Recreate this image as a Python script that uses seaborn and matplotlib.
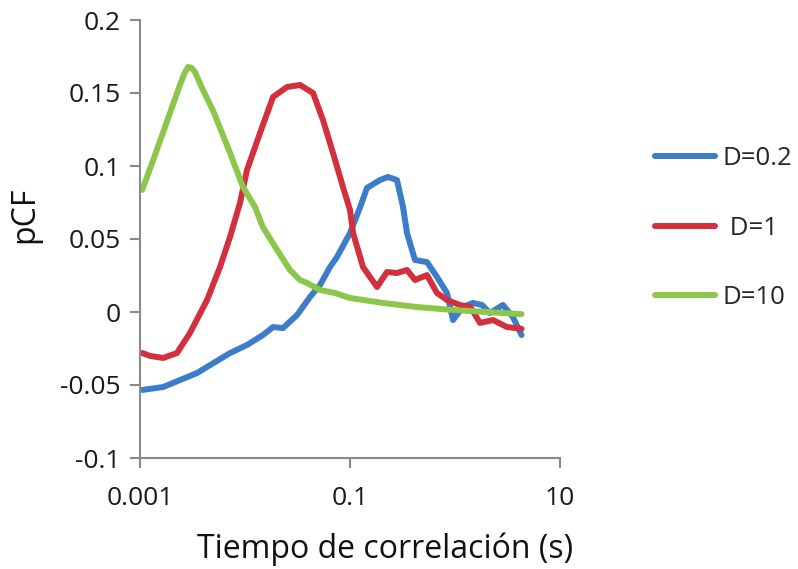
import numpy as np
import pandas as pd
import matplotlib
matplotlib.use("Agg")
import matplotlib.pyplot as plt
from matplotlib.ticker import FixedLocator, NullLocator
import seaborn as sns

# Correlation times (s) and pCF values for each D
tau_d02 = [0.00105, 0.00166, 0.00349, 0.0072, 0.01045, 0.0148, 0.0185, 0.023,
           0.0313, 0.0416, 0.0518, 0.0645, 0.0752, 0.100, 0.125, 0.145, 0.193,
           0.230, 0.280, 0.320, 0.349, 0.416, 0.541, 0.674, 0.839, 0.957, 1.19,
           1.48, 1.81, 2.15, 2.86, 3.56, 4.3]
pcf_d02 = [-0.0534, -0.0514, -0.0418, -0.0281, -0.0226, -0.0158, -0.0103, -0.0110,
           -0.0021, 0.0103, 0.0185, 0.0308, 0.0377, 0.0541, 0.0719, 0.0849, 0.0904,
           0.0925, 0.0904, 0.0719, 0.0541, 0.0356, 0.0342, 0.0240, 0.0130, -0.0055,
           0.0034, 0.0062, 0.0048, -0.0007, 0.0048, -0.0034, -0.0158]

tau_d1 = [0.00105, 0.00125, 0.00166, 0.00225, 0.00299, 0.00435, 0.00578, 0.0072,
          0.00896, 0.01045, 0.0139, 0.0185, 0.0251, 0.0334, 0.0445, 0.0553, 0.0689,
          0.0857, 0.100, 0.107, 0.133, 0.181, 0.225, 0.280, 0.349, 0.416, 0.541,
          0.674, 0.839, 1.116, 1.40, 1.73, 2.30, 3.13, 4.3]
pcf_d1 = [-0.0281, -0.0301, -0.0315, -0.0281, -0.0144, 0.0082, 0.0308, 0.0514,
          0.0747, 0.0973, 0.1226, 0.1473, 0.1541, 0.1555, 0.150, 0.1315, 0.1089,
          0.0856, 0.0699, 0.0541, 0.0308, 0.0171, 0.0274, 0.0267, 0.0288, 0.0219,
          0.0253, 0.0130, 0.0082, 0.0048, 0.0035, -0.0075, -0.0055, -0.0103, -0.0115]

tau_d10 = [0.00105, 0.00139, 0.00193, 0.0024, 0.00265, 0.00287, 0.0031, 0.00334,
           0.00398, 0.00496, 0.0072, 0.00957, 0.01245, 0.0148, 0.0202, 0.0268,
           0.0334, 0.0389, 0.0518, 0.072, 0.100, 0.206, 0.435, 0.957, 2.02, 4.3]
pcf_d10 = [0.0836, 0.1075, 0.1363, 0.1555, 0.1635, 0.1678, 0.1672, 0.1644,
           0.152, 0.138, 0.109, 0.0856, 0.0719, 0.0582, 0.0425, 0.0288, 0.0219,
           0.0199, 0.0151, 0.0130, 0.0096, 0.0062, 0.0034, 0.0014, 0.0000, -0.0015]

series_labels = ["D=0.2", " D=1", "D=10"]
series_colors = ["#3b7dc8", "#d42f3d", "#8cc74c"]

x_ticks = [0.001, 0.1, 10]
x_tick_labels = ["0.001", "0.1", "10"]
y_ticks = [-0.1, -0.05, 0, 0.05, 0.1, 0.15, 0.2]
y_tick_labels = ["-0.1", "-0.05", "0", "0.05", "0.1", "0.15", "0.2"]

frames = []
for lab, t, p in zip(series_labels, [tau_d02, tau_d1, tau_d10],
                     [pcf_d02, pcf_d1, pcf_d10]):
    frames.append(pd.DataFrame({"tau": t, "pCF": p, "D": lab}))
df = pd.concat(frames, ignore_index=True)

sns.set_style("white")
plt.rcParams["font.family"] = ["Open Sans", "DejaVu Sans"]

fig = plt.figure(figsize=(7.98, 5.69), dpi=100)
ax = fig.add_axes([140 / 798, 1 - 458 / 569, 420 / 798, 438 / 569])

sns.lineplot(data=df, x="tau", y="pCF", hue="D", hue_order=series_labels,
             palette=series_colors, estimator=None, sort=False, lw=4.3,
             solid_capstyle="round", solid_joinstyle="round",
             ax=ax, legend=True)

ax.set_xscale("log")
ax.set_xlim(0.001, 10)
ax.set_ylim(-0.1, 0.2)
ax.xaxis.set_major_locator(FixedLocator(x_ticks))
ax.xaxis.set_minor_locator(NullLocator())
ax.set_xticklabels(x_tick_labels)
ax.set_yticks(y_ticks)
ax.set_yticklabels(y_tick_labels)

gray = "#8a8a8a"
for side in ["top", "right"]:
    ax.spines[side].set_visible(False)
for side in ["left", "bottom"]:
    ax.spines[side].set_color(gray)
    ax.spines[side].set_linewidth(1.5)
ax.tick_params(axis="both", which="major", bottom=True, left=True,
               direction="out", length=7, width=1.5, color=gray,
               labelsize=19, labelcolor="#1a1a1a")
ax.tick_params(axis="x", pad=13)
ax.tick_params(axis="y", pad=7)

ax.set_xlabel("Tiempo de correlación (s)", fontsize=23, color="#111111")
ax.xaxis.set_label_coords(0.583, -0.170)
ax.set_ylabel("pCF", fontsize=23, color="#111111")
ax.yaxis.set_label_coords(-0.236, 0.555)

handles, labels = ax.get_legend_handles_labels()
for h in handles:
    h.set_solid_capstyle("round")
ax.legend(handles, labels, loc="center left",
          bbox_to_anchor=(655 / 798, 1 - 228 / 569),
          bbox_transform=fig.transFigure, frameon=False, fontsize=18.5,
          handlelength=2.33, handletextpad=0.3, labelspacing=1.72,
          borderaxespad=0, borderpad=0)

fig.savefig("out.png", dpi=100)
